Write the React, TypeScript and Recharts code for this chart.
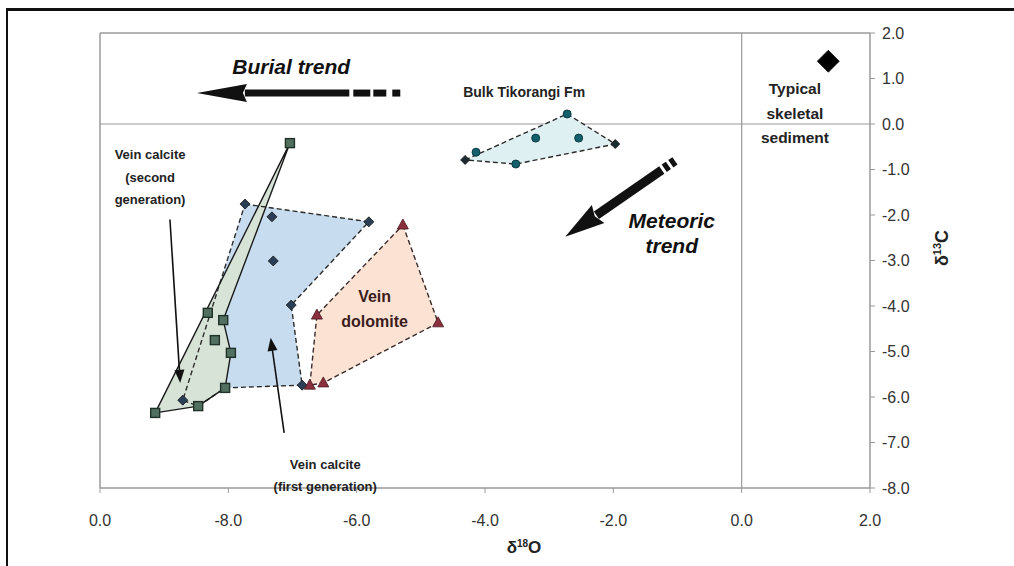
import React from 'react';
import { ReferenceLine, Scatter, ScatterChart, XAxis, YAxis } from 'recharts';

type Pt = { x: number; y: number };
type Note = Pt & { text: string; kind: string };

const FONT = '"Liberation Sans", Arial, Helvetica, sans-serif';

const xTicks = [-10, -8, -6, -4, -2, 0, 2];
const yTicks = [2, 1, 0, -1, -2, -3, -4, -5, -6, -7, -8];

// Bulk Tikorangi Fm
const bulkCircles: Pt[] = [
  { x: -2.72, y: 0.22 },
  { x: -3.21, y: -0.31 },
  { x: -2.54, y: -0.31 },
  { x: -3.52, y: -0.88 },
  { x: -4.14, y: -0.62 },
];
const bulkDiamonds: Pt[] = [
  { x: -4.31, y: -0.79 },
  { x: -1.97, y: -0.44 },
];
const bulkOutline: Pt[] = [
  { x: -4.31, y: -0.79 },
  { x: -2.72, y: 0.22 },
  { x: -1.97, y: -0.44 },
  { x: -3.52, y: -0.88 },
];

// vein calcite, first generation
const firstGen: Pt[] = [
  { x: -7.74, y: -1.76 },
  { x: -7.32, y: -2.04 },
  { x: -5.81, y: -2.15 },
  { x: -7.3, y: -3.01 },
  { x: -7.02, y: -3.98 },
  { x: -6.85, y: -5.74 },
  { x: -8.71, y: -6.07 },
];
const firstGenOutline: Pt[] = [
  { x: -7.74, y: -1.76 },
  { x: -5.81, y: -2.15 },
  { x: -7.02, y: -3.98 },
  { x: -6.85, y: -5.74 },
  { x: -8.05, y: -5.8 },
  { x: -8.47, y: -6.2 },
  { x: -8.71, y: -6.07 },
];

// vein calcite, second generation
const secondGen: Pt[] = [
  { x: -7.04, y: -0.42 },
  { x: -8.32, y: -4.15 },
  { x: -8.08, y: -4.31 },
  { x: -8.21, y: -4.75 },
  { x: -7.96, y: -5.03 },
  { x: -8.05, y: -5.8 },
  { x: -8.47, y: -6.2 },
  { x: -9.14, y: -6.35 },
];
const secondGenOutline: Pt[] = [
  { x: -7.04, y: -0.42 },
  { x: -8.08, y: -4.31 },
  { x: -7.96, y: -5.03 },
  { x: -8.05, y: -5.8 },
  { x: -8.47, y: -6.2 },
  { x: -9.14, y: -6.35 },
];

// vein dolomite
const dolomite: Pt[] = [
  { x: -5.28, y: -2.22 },
  { x: -4.73, y: -4.37 },
  { x: -6.52, y: -5.69 },
  { x: -6.73, y: -5.74 },
  { x: -6.62, y: -4.2 },
];

const skeletal: Pt[] = [{ x: 1.35, y: 1.38 }];

// trend arrows: tail first, head second
const burialTrend: Pt[] = [
  { x: -5.32, y: 0.68 },
  { x: -8.49, y: 0.68 },
];
const meteoricTrend: Pt[] = [
  { x: -1.04, y: -0.81 },
  { x: -2.75, y: -2.48 },
];
const secondGenPointer: Pt[] = [
  { x: -8.91, y: -2.1 },
  { x: -8.75, y: -5.69 },
];
const firstGenPointer: Pt[] = [
  { x: -7.13, y: -6.79 },
  { x: -7.34, y: -4.7 },
];

const notes: Note[] = [
  { x: -7.02, y: 1.27, text: 'Burial trend', kind: 'trend' },
  { x: -3.39, y: 0.7, text: 'Bulk Tikorangi Fm', kind: 'label' },
  { x: 0.83, y: 0.77, text: 'Typical', kind: 'big' },
  { x: 0.83, y: 0.24, text: 'skeletal', kind: 'big' },
  { x: 0.83, y: -0.29, text: 'sediment', kind: 'big' },
  { x: -1.09, y: -2.13, text: 'Meteoric', kind: 'trend' },
  { x: -1.09, y: -2.68, text: 'trend', kind: 'trend' },
  { x: -9.22, y: -0.68, text: 'Vein calcite', kind: 'small' },
  { x: -9.22, y: -1.17, text: '(second', kind: 'small' },
  { x: -9.22, y: -1.66, text: 'generation)', kind: 'small' },
  { x: -5.72, y: -3.8, text: 'Vein', kind: 'dolo' },
  { x: -5.72, y: -4.33, text: 'dolomite', kind: 'dolo' },
  { x: -6.49, y: -7.49, text: 'Vein calcite', kind: 'small' },
  { x: -6.49, y: -7.96, text: '(first generation)', kind: 'small' },
];

const noteStyle: Record<string, React.CSSProperties & { size: number }> = {
  trend: { size: 21, fontWeight: 700, fontStyle: 'italic', fill: '#111' },
  label: { size: 14, fontWeight: 700, fill: '#222' },
  big: { size: 15.5, fontWeight: 700, fill: '#222' },
  small: { size: 13, fontWeight: 700, fill: '#222' },
  dolo: { size: 16, fontWeight: 700, fill: '#3b1c1c' },
};

const noDot = () => <g />;

const polygonLine = (fill: string, stroke: string, dash?: string) => (props: any) => {
  const pts = (props.points || []).map((p: any) => `${p.x},${p.y}`).join(' ');
  return (
    <polygon
      points={pts}
      fill={fill}
      stroke={stroke}
      strokeWidth={1.4}
      strokeDasharray={dash}
      strokeLinejoin="round"
    />
  );
};

const thickArrow =
  (half: number, headLen: number, headHalf: number, pieces: number[][]) => (props: any) => {
    const [a, b] = props.points;
    const dx = b.x - a.x;
    const dy = b.y - a.y;
    const len = Math.hypot(dx, dy);
    const ux = dx / len;
    const uy = dy / len;
    const nx = -uy;
    const ny = ux;
    const at = (d: number, off: number) => `${a.x + ux * d + nx * off},${a.y + uy * d + ny * off}`;
    const shaftEnd = len - headLen;
    return (
      <g>
        {pieces.map(([s, e], i) => {
          const end = Math.min(e, shaftEnd + 2);
          return (
            <polygon
              key={i}
              points={[at(s, -half), at(end, -half), at(end, half), at(s, half)].join(' ')}
              fill="#111"
            />
          );
        })}
        <polygon
          points={[at(len, 0), at(shaftEnd, -headHalf), at(shaftEnd + 4, 0), at(shaftEnd, headHalf)].join(' ')}
          fill="#111"
        />
      </g>
    );
  };

const thinArrow = (props: any) => {
  const [a, b] = props.points;
  const dx = b.x - a.x;
  const dy = b.y - a.y;
  const len = Math.hypot(dx, dy);
  const ux = dx / len;
  const uy = dy / len;
  const nx = -uy;
  const ny = ux;
  const L = 13;
  const H = 5;
  const bx = b.x - ux * L;
  const by = b.y - uy * L;
  return (
    <g>
      <line x1={a.x} y1={a.y} x2={bx + ux * 3} y2={by + uy * 3} stroke="#111" strokeWidth={1.6} />
      <polygon
        points={`${b.x},${b.y} ${bx + nx * H},${by + ny * H} ${bx - nx * H},${by - ny * H}`}
        fill="#111"
      />
    </g>
  );
};

const diamond = (fill: string, r: number) => (p: any) => (
  <polygon
    points={`${p.cx},${p.cy - r} ${p.cx + r},${p.cy} ${p.cx},${p.cy + r} ${p.cx - r},${p.cy}`}
    fill={fill}
    stroke="#111"
    strokeWidth={0.8}
  />
);

const square = (p: any) => (
  <rect x={p.cx - 4.5} y={p.cy - 4.5} width={9} height={9} fill="#52705f" stroke="#1f3128" strokeWidth={1.4} />
);

const triangle = (p: any) => (
  <polygon
    points={`${p.cx},${p.cy - 6} ${p.cx + 5.5},${p.cy + 4} ${p.cx - 5.5},${p.cy + 4}`}
    fill="#8a2f3e"
    stroke="#4a1820"
    strokeWidth={0.8}
  />
);

const circle = (p: any) => <circle cx={p.cx} cy={p.cy} r={4} fill="#12606c" stroke="#0c3a42" strokeWidth={1} />;

const noteShape = (p: any) => {
  const n: Note = p.payload;
  const { size, ...st } = noteStyle[n.kind];
  return (
    <text
      x={p.cx}
      y={p.cy}
      textAnchor="middle"
      dominantBaseline="central"
      fontSize={size}
      fontFamily={FONT}
      style={st}
    >
      {n.text}
    </text>
  );
};

export default function App() {
  const grey = '#9a9a9a';
  return (
    <div
      style={{
        position: 'absolute',
        left: 0,
        top: 0,
        width: 1014,
        height: 566,
        background: '#fff',
        overflow: 'hidden',
        fontFamily: FONT,
      }}
    >
      <div
        style={{
          position: 'absolute',
          left: 6,
          top: 8,
          width: 1100,
          height: 700,
          borderTop: '3px solid #111',
          borderLeft: '2px solid #111',
        }}
      />
      <div style={{ position: 'absolute', left: 0, top: 0 }}>
        <ScatterChart width={1014} height={566} margin={{ top: 33, right: 84, bottom: 48, left: 100 }}>
          <XAxis
            type="number"
            dataKey="x"
            domain={[-10, 2]}
            ticks={xTicks}
            tickFormatter={(v: number) => (v === -10 ? '0.0' : v.toFixed(1))}
            tick={{ fontSize: 16, fill: '#333', fontFamily: FONT }}
            tickSize={5}
            tickMargin={22}
            axisLine={{ stroke: grey, strokeWidth: 1.5 }}
            tickLine={{ stroke: grey }}
            height={30}
          />
          <YAxis
            type="number"
            dataKey="y"
            orientation="right"
            domain={[-8, 2]}
            ticks={yTicks}
            tickFormatter={(v: number) => v.toFixed(1)}
            tick={{ fontSize: 16, fill: '#333', fontFamily: FONT }}
            tickSize={5}
            tickMargin={7}
            axisLine={{ stroke: grey, strokeWidth: 1.5 }}
            tickLine={{ stroke: grey }}
            width={60}
          />
          <ReferenceLine y={2} stroke={grey} strokeWidth={1.5} />
          <ReferenceLine x={-10} stroke={grey} strokeWidth={1.5} />
          <ReferenceLine x={0} stroke={grey} strokeWidth={1.2} />
          <ReferenceLine y={0} stroke={grey} strokeWidth={1.2} />

          {/* fills first, then outlines so the dashed edge shows through the green field */}
          <Scatter data={firstGenOutline} line={polygonLine('#c7dcef', 'none')} shape={noDot} isAnimationActive={false} />
          <Scatter data={secondGenOutline} line={polygonLine('#d6e3d6', 'none')} shape={noDot} isAnimationActive={false} />
          <Scatter data={firstGenOutline} line={polygonLine('none', '#2b2b2b', '5 3')} shape={noDot} isAnimationActive={false} />
          <Scatter data={secondGenOutline} line={polygonLine('none', '#1a1a1a')} shape={noDot} isAnimationActive={false} />
          <Scatter data={dolomite} line={polygonLine('#fbe2d3', '#3a2a2a', '5 3')} shape={noDot} isAnimationActive={false} />
          <Scatter data={bulkOutline} line={polygonLine('#dff0f2', '#2b2b2b', '5 3')} shape={noDot} isAnimationActive={false} />

          <Scatter data={firstGen} shape={diamond('#2a3f57', 5)} isAnimationActive={false} />
          <Scatter data={secondGen} shape={square} isAnimationActive={false} />
          <Scatter data={dolomite} shape={triangle} isAnimationActive={false} />
          <Scatter data={bulkCircles} shape={circle} isAnimationActive={false} />
          <Scatter data={bulkDiamonds} shape={diamond('#1d2a30', 4.5)} isAnimationActive={false} />
          <Scatter data={skeletal} shape={diamond('#000', 11)} isAnimationActive={false} />

          <Scatter
            data={burialTrend}
            line={thickArrow(3.5, 50, 9, [[0, 8], [14, 27], [30, 47], [51, Infinity]])}
            shape={noDot}
            isAnimationActive={false}
          />
          <Scatter
            data={meteoricTrend}
            line={thickArrow(4.5, 40, 11, [[0, 5], [8, 13], [16, Infinity]])}
            shape={noDot}
            isAnimationActive={false}
          />
          <Scatter data={secondGenPointer} line={thinArrow} shape={noDot} isAnimationActive={false} />
          <Scatter data={firstGenPointer} line={thinArrow} shape={noDot} isAnimationActive={false} />

          <Scatter data={notes} shape={noteShape} isAnimationActive={false} />
        </ScatterChart>
      </div>
      <div
        style={{
          position: 'absolute',
          left: 524,
          top: 548,
          transform: 'translate(-50%, -50%)',
          fontSize: 17,
          fontWeight: 700,
          color: '#222',
          whiteSpace: 'nowrap',
        }}
      >
        δ<sup style={{ fontSize: 10 }}>18</sup>O
      </div>
      <div
        style={{
          position: 'absolute',
          left: 942,
          top: 248,
          transform: 'translate(-50%, -50%) rotate(-90deg)',
          fontSize: 18,
          fontWeight: 700,
          color: '#222',
          whiteSpace: 'nowrap',
        }}
      >
        δ<sup style={{ fontSize: 11 }}>13</sup>C
      </div>
    </div>
  );
}
